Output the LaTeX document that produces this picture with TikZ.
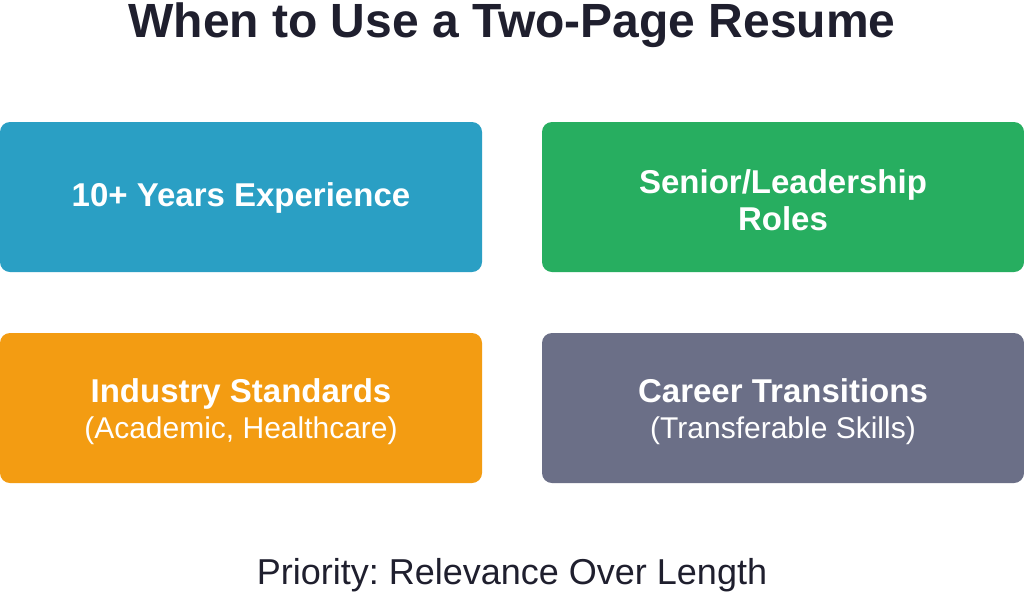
\documentclass[tikz,border=0pt]{standalone}
\usepackage{fontspec}
\setmainfont{Liberation Sans}
\frenchspacing
\definecolor{cblue}{HTML}{2A9FC4}
\definecolor{cgreen}{HTML}{27AE60}
\definecolor{corange}{HTML}{F39C12}
\definecolor{cgray}{HTML}{6B6F87}
\definecolor{ctext}{HTML}{1F1F2E}
\begin{document}
\begin{tikzpicture}[x=1pt,y=-1pt,
  card/.style={rounded corners=10pt},
  head/.style={text=white,anchor=base,inner sep=0pt,font=\fontsize{33}{38}\selectfont\bfseries},
  sub/.style={text=white,anchor=base,inner sep=0pt,font=\fontsize{30}{36}\selectfont},
]
\useasboundingbox (0,0) rectangle (1024,592);
\fill[white] (0,0) rectangle (1024,592);
\node[text=ctext,anchor=base,inner sep=0pt,font=\fontsize{48}{54}\selectfont\bfseries] (title) at (512,37.5) {When to Use a Two-Page Resume};
\fill[card,cblue] (0,122) rectangle (482,272);
\fill[card,cgreen] (542,122) rectangle (1024,272);
\fill[card,corange] (0,333) rectangle (482,483);
\fill[card,cgray] (542,333) rectangle (1024,483);
\node[head] (t1) at (241,206) {10+ Years Experience};
\node[head] (t2a) at (783,193) {Senior/Leadership};
\node[head] (t2b) at (783,230) {Roles};
\node[head] (t3a) at (241,402) {Industry Standards};
\node[sub] (t3b) at (241,438) {(Academic, Healthcare)};
\node[head] (t4a) at (783,402) {Career Transitions};
\node[sub] (t4b) at (783,438) {(Transferable Skills)};
\node[text=ctext,anchor=base,inner sep=0pt,font=\fontsize{36}{42}\selectfont] (foot) at (512,584) {Priority: Relevance Over Length};
\end{tikzpicture}
\end{document}
